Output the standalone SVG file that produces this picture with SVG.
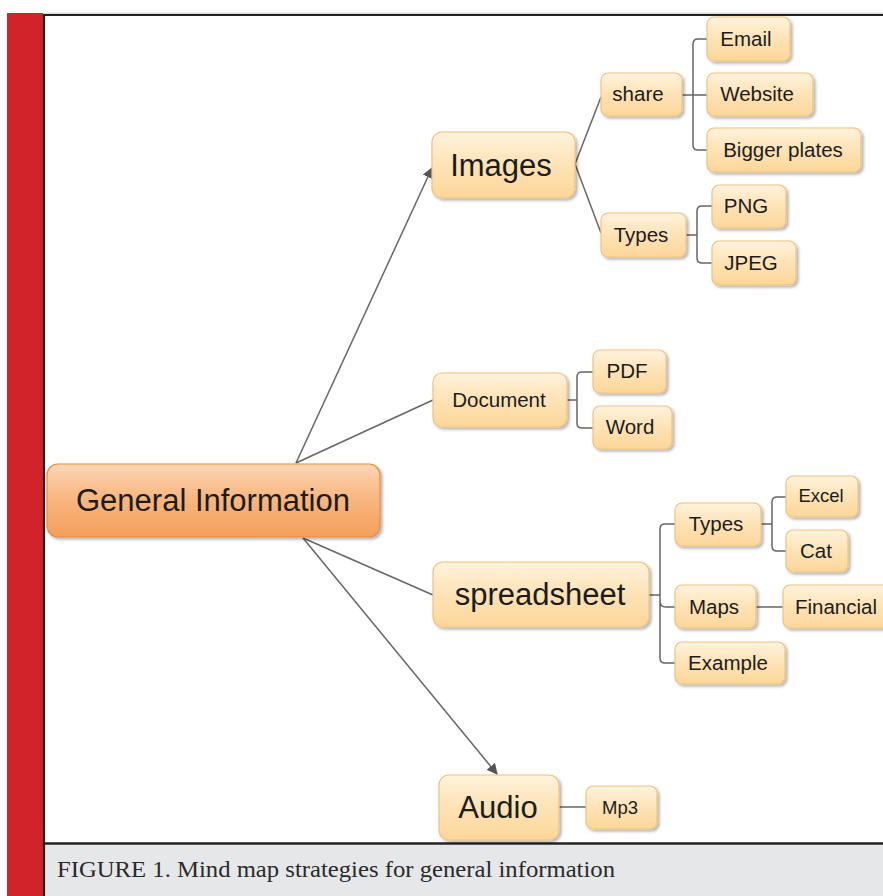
<svg xmlns="http://www.w3.org/2000/svg" width="883" height="896" viewBox="0 0 883 896">
<defs>
<linearGradient id="gNode" x1="0" y1="0" x2="0" y2="1">
<stop offset="0" stop-color="#fff3dd"/>
<stop offset="0.45" stop-color="#fee4b9"/>
<stop offset="1" stop-color="#fcd699"/>
</linearGradient>
<linearGradient id="gRoot" x1="0" y1="0" x2="0" y2="1">
<stop offset="0" stop-color="#fcd7b6"/>
<stop offset="0.45" stop-color="#f9b782"/>
<stop offset="1" stop-color="#f39f5c"/>
</linearGradient>
<filter id="sh" x="-10%" y="-10%" width="125%" height="135%">
<feDropShadow dx="2" dy="2" stdDeviation="1.5" flood-color="#000" flood-opacity="0.3"/>
</filter>
<marker id="arr" viewBox="0 0 10 10" refX="9" refY="5" markerWidth="11" markerHeight="11" markerUnits="userSpaceOnUse" orient="auto">
<path d="M0,0 L10,5 L0,10 z" fill="#555"/>
</marker>
</defs>
<style>
.n rect{fill:url(#gNode);stroke:#f2c27c;stroke-width:1.2;filter:url(#sh)}
.root rect{fill:url(#gRoot);stroke:#e98a3f;stroke-width:1.2;filter:url(#sh)}
text{font-family:"Liberation Sans",Arial,sans-serif;fill:#1c1c1c;text-anchor:middle}
.big{font-size:31px}
.sm{font-size:20.5px}
.xs{font-size:18.5px}
.c path{fill:none;stroke:#666;stroke-width:1.5}
.cap{font-family:"Liberation Serif","Times New Roman",serif;font-size:24px;text-anchor:start;fill:#2a2a2a}
</style>
<rect x="0" y="0" width="883" height="896" fill="#fff"/>
<rect x="7" y="13" width="36" height="883" fill="#d2232a"/>
<rect x="45" y="845" width="838" height="51" fill="#e6e7e8"/>
<line x1="43" y1="13.2" x2="883" y2="13.2" stroke="#bbb" stroke-width="0.8"/>
<line x1="43" y1="15" x2="883" y2="15" stroke="#222" stroke-width="2.2"/>
<line x1="44" y1="14" x2="44" y2="896" stroke="#222" stroke-width="2.2"/>
<line x1="45" y1="843.5" x2="883" y2="843.5" stroke="#222" stroke-width="2.5"/>
<text class="cap" x="57" y="877" textLength="558" lengthAdjust="spacingAndGlyphs">FIGURE 1. Mind map strategies for general information</text>

<g class="c" id="connectors">
<path d="M296,463 L432,168" marker-end="url(#arr)"/>
<path d="M296,463 L433,400"/>
<path d="M303,538 L433,595"/>
<path d="M303,538 L497,774" marker-end="url(#arr)"/>
<path d="M575,164 L601,97"/>
<path d="M575,164 L601,233"/>
<path d="M682,95 H693 M707,39 H698 Q693,39 693,44 V145 Q693,150 698,150 H707 M693,95 H707"/>
<path d="M686,235 H697 M712,206 H702 Q697,206 697,211 V258 Q697,263 702,263 H712"/>
<path d="M567,400 H577 M593,372 H582 Q577,372 577,377 V423 Q577,428 582,428 H593"/>
<path d="M649,595 H660 M675,524 H665 Q660,524 660,529 V658 Q660,663 665,663 H675 M660,601 Q660,607 666,607 H675"/>
<path d="M761,524 H772 M786,497 H777 Q772,497 772,502 V546 Q772,551 777,551 H786"/>
<path d="M756,607 H783"/>
<path d="M559,807 H586"/>
</g>

<g id="general" class="root"><rect x="47" y="464" width="333" height="73" rx="11"/><text class="big" x="213" y="511">General Information</text></g>
<g id="images" class="n"><rect x="432" y="132" width="143" height="66" rx="10"/><text class="big" x="501" y="176">Images</text></g>
<g id="share" class="n"><rect x="601" y="73" width="81" height="43" rx="7"/><text class="sm" x="638" y="101">share</text></g>
<g id="types1" class="n"><rect x="601" y="213" width="85" height="44" rx="7"/><text class="sm" x="641" y="242">Types</text></g>
<g id="email" class="n"><rect x="707" y="17" width="83" height="44" rx="7"/><text class="sm" x="746" y="46">Email</text></g>
<g id="website" class="n"><rect x="707" y="73" width="106" height="43" rx="7"/><text class="sm" x="757" y="101">Website</text></g>
<g id="bigger" class="n"><rect x="707" y="128" width="154" height="44" rx="7"/><text class="sm" x="783" y="157">Bigger plates</text></g>
<g id="png" class="n"><rect x="712" y="185" width="74" height="43" rx="7"/><text class="sm" x="746" y="213">PNG</text></g>
<g id="jpeg" class="n"><rect x="712" y="241" width="84" height="44" rx="7"/><text class="sm" x="751" y="270">JPEG</text></g>
<g id="document" class="n"><rect x="433" y="373" width="134" height="54" rx="9"/><text class="sm" x="499" y="407">Document</text></g>
<g id="pdf" class="n"><rect x="593" y="350" width="73" height="43" rx="7"/><text class="sm" x="627" y="378">PDF</text></g>
<g id="word" class="n"><rect x="593" y="406" width="79" height="43" rx="7"/><text class="sm" x="630" y="434">Word</text></g>
<g id="spreadsheet" class="n"><rect x="433" y="562" width="216" height="65" rx="10"/><text class="big" x="540" y="605">spreadsheet</text></g>
<g id="types2" class="n"><rect x="675" y="503" width="86" height="43" rx="7"/><text class="sm" x="716" y="531">Types</text></g>
<g id="excel" class="n"><rect x="786" y="476" width="72" height="41" rx="7"/><text class="xs" x="821" y="502">Excel</text></g>
<g id="cat" class="n"><rect x="786" y="530" width="62" height="42" rx="7"/><text class="sm" x="816" y="558">Cat</text></g>
<g id="maps" class="n"><rect x="675" y="585" width="81" height="43" rx="7"/><text class="sm" x="714" y="614">Maps</text></g>
<g id="financial" class="n"><rect x="783" y="585" width="110" height="43" rx="7"/><text class="sm" x="836" y="614">Financial</text></g>
<g id="example" class="n"><rect x="675" y="642" width="110" height="42" rx="7"/><text class="sm" x="728" y="670">Example</text></g>
<g id="audio" class="n"><rect x="439" y="775" width="120" height="65" rx="10"/><text class="big" x="498" y="818">Audio</text></g>
<g id="mp3" class="n"><rect x="586" y="786" width="71" height="43" rx="7"/><text class="xs" x="620" y="814">Mp3</text></g>
</svg>
